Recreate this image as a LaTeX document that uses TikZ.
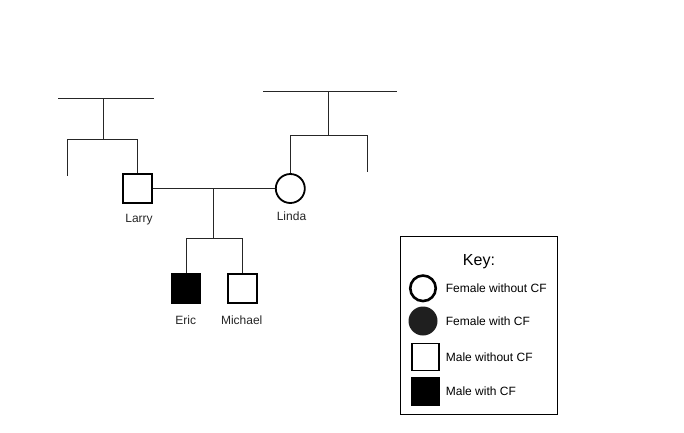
\documentclass[tikz,border=0pt]{standalone}
\usepackage{fontspec}
\setmainfont{Liberation Sans}
\begin{document}
\begin{tikzpicture}[x=1bp,y=-1bp,
  link/.style={line width=0.9bp,black!85},
  male/.style={draw,rectangle,minimum size=29bp,inner sep=0pt,line width=1.6bp},
  female/.style={draw,circle,minimum size=29bp,inner sep=0pt,line width=1.8bp},
  affected/.style={fill=black},
  lbl/.style={font=\fontsize{12bp}{14bp}\selectfont,text=black!85,inner sep=0pt},
  keytxt/.style={font=\fontsize{12bp}{14bp}\selectfont,anchor=west,inner sep=0pt}]
\useasboundingbox[fill=white] (0,0) rectangle (684,432);
% people
\node[male] (larry) at (137.5,188.5) {};
\node[female] (linda) at (290.3,188.5) {};
\node[male,affected] (eric) at (186,288.7) {};
\node[male] (michael) at (242.2,288.7) {};
\node[lbl] (larrylbl) at (139,219.5) {Larry};
\node[lbl] (lindalbl) at (291.5,216) {Linda};
\node[lbl] (ericlbl) at (185.7,320) {Eric};
\node[lbl] (michaellbl) at (241.7,320) {Michael};
% left grandparents
\coordinate (lgpL) at (58,98);
\coordinate (lgpR) at (153.5,98);
\coordinate (lgpM) at (103.3,98);
\coordinate (lsibM) at (103.3,139);
\coordinate (lsibL) at (67,139);
\coordinate (lsibR) at (137.5,139);
\coordinate (lsibEnd) at (67,176);
\draw[link] (lgpL) -- (lgpR);
\draw[link] (lgpM) -- (lsibM);
\draw[link] (lsibL) -- (lsibR);
\draw[link] (lsibL) -- (lsibEnd);
\draw[link] (lsibR) -- (larry.north);
% right grandparents
\coordinate (rgpL) at (263,91);
\coordinate (rgpR) at (397,91);
\coordinate (rgpM) at (328.3,91);
\coordinate (rsibM) at (328.3,135);
\coordinate (rsibL) at (290.3,135);
\coordinate (rsibR) at (367.3,135);
\coordinate (rsibEnd) at (367.3,171.5);
\draw[link] (rgpL) -- (rgpR);
\draw[link] (rgpM) -- (rsibM);
\draw[link] (rsibL) -- (rsibR);
\draw[link] (rsibR) -- (rsibEnd);
\draw[link] (rsibL) -- (linda.north);
% marriage and children
\draw[link] (larry.east) -- (linda.west);
\coordinate (mar) at (213.3,188.5);
\coordinate (kidM) at (213.3,238);
\coordinate (kidL) at (186,238);
\coordinate (kidR) at (242.2,238);
\draw[link] (mar) -- (kidM);
\draw[link] (kidL) -- (kidR);
\draw[link] (kidL) -- (eric.north);
\draw[link] (kidR) -- (michael.north);
% key
\node[draw,line width=1bp,minimum width=157.5bp,minimum height=178bp,inner sep=0pt] (keybox) at (478.75,325) {};
\node[font=\fontsize{16bp}{18bp}\selectfont,inner sep=0pt] (keytitle) at (479,261.5) {Key:};
\node[circle,draw,line width=2.6bp,minimum size=25.5bp,inner sep=0pt] (k1) at (423,288.3) {};
\node[circle,fill=black!88,minimum size=29bp,inner sep=0pt] (k2) at (423,321) {};
\node[male,line width=1.8bp,minimum size=27bp] (k3) at (425.5,357) {};
\node[rectangle,fill=black,minimum size=29bp,inner sep=0pt] (k4) at (425.5,391.5) {};
\node[keytxt] (t1) at (445.7,288.3) {Female without CF};
\node[keytxt] (t2) at (445.7,321) {Female with CF};
\node[keytxt] (t3) at (445.7,357) {Male without CF};
\node[keytxt] (t4) at (445.7,391.5) {Male with CF};
\end{tikzpicture}
\end{document}
